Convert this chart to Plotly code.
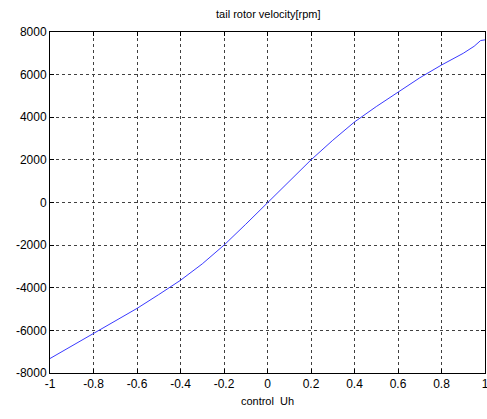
import plotly.graph_objects as go

control_uh = [-1.0, -0.9, -0.8, -0.7, -0.6, -0.5, -0.4, -0.3, -0.2, -0.1, 0.0,
              0.1, 0.2, 0.3, 0.4, 0.5, 0.6, 0.7, 0.8, 0.9, 0.95, 0.98, 1.0]
velocity_rpm = [-7320, -6730, -6130, -5550, -4970, -4320, -3650, -2880, -2000, -1020, 0,
                1020, 2000, 2920, 3780, 4500, 5190, 5850, 6450, 7000, 7330, 7600, 7630]

x_ticks = [-1, -0.8, -0.6, -0.4, -0.2, 0, 0.2, 0.4, 0.6, 0.8, 1]
x_tick_text = ["-1", "-0.8", "-0.6", "-0.4", "-0.2", "0", "0.2", "0.4", "0.6", "0.8", "1"]
y_ticks = [-8000, -6000, -4000, -2000, 0, 2000, 4000, 6000, 8000]
y_tick_text = [str(v) for v in y_ticks]

fig = go.Figure()
fig.add_trace(go.Scatter(x=control_uh, y=velocity_rpm, mode="lines",
                         line=dict(color="#3a3aff", width=1),
                         showlegend=False, hoverinfo="skip", cliponaxis=False))

axis_common = dict(showline=True, linecolor="black", linewidth=1, mirror="allticks",
                   ticks="inside", ticklen=4, tickcolor="black", automargin=False,
                   ticklabeloverflow="allow",
                   showgrid=True, gridcolor="#404040", griddash="3px,3px", gridwidth=1,
                   zeroline=False, tickfont=dict(family="Liberation Sans, Arial", size=12, color="black"))

fig.update_layout(
    width=487, height=419,
    margin=dict(l=50, r=2, t=32, b=46),
    paper_bgcolor="white", plot_bgcolor="white",
    title=dict(text="tail rotor velocity[rpm]", x=0.551, xanchor="center", y=0.967, yanchor="middle",
               font=dict(family="Liberation Sans, Arial", size=11, color="black")),
    xaxis=dict(range=[-1, 1], tickvals=x_ticks, ticktext=x_tick_text,
               title=dict(text="control  Uh", standoff=6,
                          font=dict(family="Liberation Sans, Arial", size=11, color="black")),
               **axis_common),
    yaxis=dict(range=[-8000, 8000], tickvals=y_ticks, ticktext=y_tick_text, **axis_common),
)

fig.write_html("out.html", config={"displayModeBar": False},
               post_script="document.body.style.margin='0';document.body.style.overflow='hidden';")
